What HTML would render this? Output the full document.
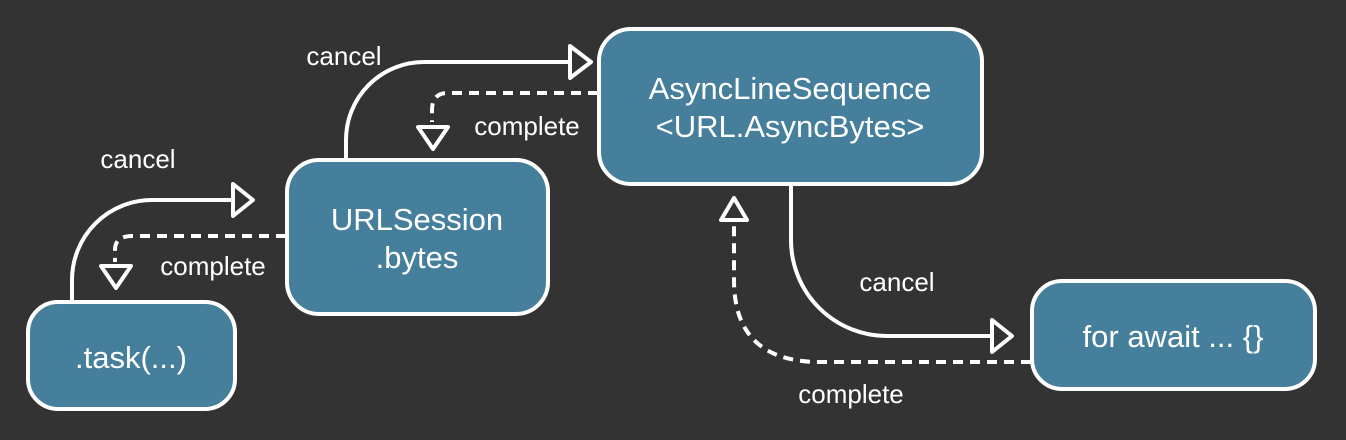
<!DOCTYPE html>
<html><head><style>
html,body{margin:0;padding:0;background:#333333;}
svg{display:block;}
text{font-family:"Liberation Sans",sans-serif;fill:#fff;}
</style></head><body>
<svg width="1346" height="440" viewBox="0 0 1346 440" xmlns="http://www.w3.org/2000/svg">
<rect width="1346" height="440" fill="#333333"/>
<g fill="#457f9c" stroke="#fff" stroke-width="4">
<rect x="28" y="302" width="207" height="107" rx="30"/>
<rect x="287" y="160" width="261" height="154" rx="32"/>
<rect x="599" y="29" width="383" height="155" rx="32"/>
<rect x="1032" y="281" width="283" height="108" rx="30"/>
</g>
<g fill="none" stroke="#fff" stroke-width="4">
<path d="M72 300 V280 A80 80 0 0 1 152 200 H235"/>
<path d="M346 158 V140 A78 78 0 0 1 424 62 H572"/>
<path d="M791 184 V240 A96 96 0 0 0 887 336 H993"/>
</g>
<g fill="none" stroke="#fff" stroke-width="4" stroke-dasharray="10 7">
<path d="M286 236 H132 Q115 236 115 250 V262"/>
<path d="M598 93 H448 Q432 93 432 110 V122"/>
<path d="M1031 362 H820 Q734 362 734 280 V222"/>
</g>
<g fill="#333333" stroke="#fff" stroke-width="4" stroke-linejoin="round">
<polygon points="233,184 253,200 233,216"/>
<polygon points="570,46 591,62 570,78"/>
<polygon points="992,320 1012,336 992,352"/>
<polygon points="101,266 131,266 116,288"/>
<polygon points="418,127 448,127 433,149"/>
<polygon points="721,220 747,220 734,198"/>
</g>
<g font-size="26">
<text x="344" y="65" text-anchor="middle">cancel</text>
<text x="527" y="135" text-anchor="middle">complete</text>
<text x="138" y="168" text-anchor="middle">cancel</text>
<text x="213" y="275" text-anchor="middle">complete</text>
<text x="897" y="291" text-anchor="middle">cancel</text>
<text x="851" y="403" text-anchor="middle">complete</text>
</g>
<g font-size="31" text-anchor="middle">
<text x="131" y="368">.task(...)</text>
<text x="417" y="230">URLSession</text>
<text x="417" y="268">.bytes</text>
<text x="790" y="99">AsyncLineSequence</text>
<text x="790" y="137">&lt;URL.AsyncBytes&gt;</text>
<text x="1173" y="347">for await ... {}</text>
</g>
</svg>
</body></html>
